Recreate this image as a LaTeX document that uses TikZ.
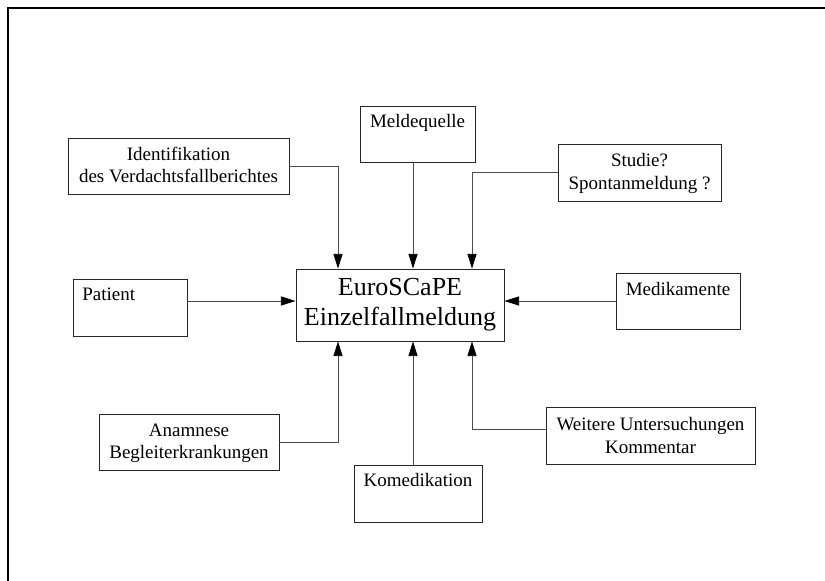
\documentclass[tikz,border=0pt]{standalone}
\usepackage{fontspec}
\setmainfont{Liberation Serif}
\usetikzlibrary{arrows.meta,fit,calc}
\begin{document}
\begin{tikzpicture}[x=0.75pt,y=-0.75pt,
  txtfont/.style={font=\fontsize{14.25pt}{16.5pt}\selectfont},
  bigfont/.style={font=\fontsize{19.5pt}{22.5pt}\selectfont},
  box/.style={draw=black!85, line width=0.6pt, inner sep=0pt},
  lbl/.style={inner sep=0pt, anchor=base, txtfont},
  arr/.style={draw=black!70, line width=0.6pt, -{Triangle[length=11pt,width=6.8pt,color=black]}},
  frameline/.style={draw=black, line width=1.3pt}
]
\useasboundingbox (0,0) rectangle (825,581);
\draw[frameline] (8,581) -- (8,8) -- (825,8);

% boxes
\node[box, fit={(68,138)(289,194)}] (id) {};
\node[box, fit={(360,106)(475,162)}] (mq) {};
\node[box, fit={(558,144)(721,201)}] (st) {};
\node[box, fit={(73,279)(187,336)}] (pat) {};
\node[box, fit={(296,269)(504,341)}] (main) {};
\node[box, fit={(616,273)(740,329)}] (med) {};
\node[box, fit={(99,414)(279,470)}] (an) {};
\node[box, fit={(354,465)(482,522)}] (km) {};
\node[box, fit={(546,407)(755,464)}] (wu) {};

% texts
\node[lbl] (id1) at (178.5,161) {Identifikation};
\node[lbl] (id2) at (178.5,183) {des Verdachtsfallberichtes};
\node[lbl] (mqt) at (417.5,128) {Meldequelle};
\node[lbl] (st1) at (639.5,167) {Studie?};
\node[lbl] (st2) at (639.5,190) {Spontanmeldung ?};
\node[lbl, anchor=base west] (patt) at (82,300) {Patient};
\node[lbl, bigfont] (main1) at (400,295) {EuroSCaPE};
\node[lbl, bigfont] (main2) at (400,325) {Einzelfallmeldung};
\node[lbl] (medt) at (678,295) {Medikamente};
\node[lbl] (an1) at (189,436) {Anamnese};
\node[lbl] (an2) at (189,458) {Begleiterkrankungen};
\node[lbl] (kmt) at (418,486) {Komedikation};
\node[lbl] (wu1) at (650.5,430) {Weitere Untersuchungen};
\node[lbl] (wu2) at (650.5,453) {Kommentar};

% connectors
\draw[arr] (id.east) -| ([xshift=-46.5pt]main.north);
\draw[arr] ([xshift=9.75pt]main.north |- mq.south) -- ([xshift=9.75pt]main.north);
\draw[arr] (st.west) -| ([xshift=54pt]main.north);
\draw[arr] ([yshift=3pt]main.west -| pat.east) -- ([yshift=3pt]main.west);
\draw[arr] ([yshift=3pt]main.east -| med.west) -- ([yshift=3pt]main.east);
\draw[arr] (an.east) -| ([xshift=-46.5pt]main.south);
\draw[arr] ([xshift=9.75pt]main.south |- km.north) -- ([xshift=9.75pt]main.south);
\draw[arr] ([yshift=4.5pt]wu.west) -| ([xshift=54pt]main.south);
\end{tikzpicture}
\end{document}
